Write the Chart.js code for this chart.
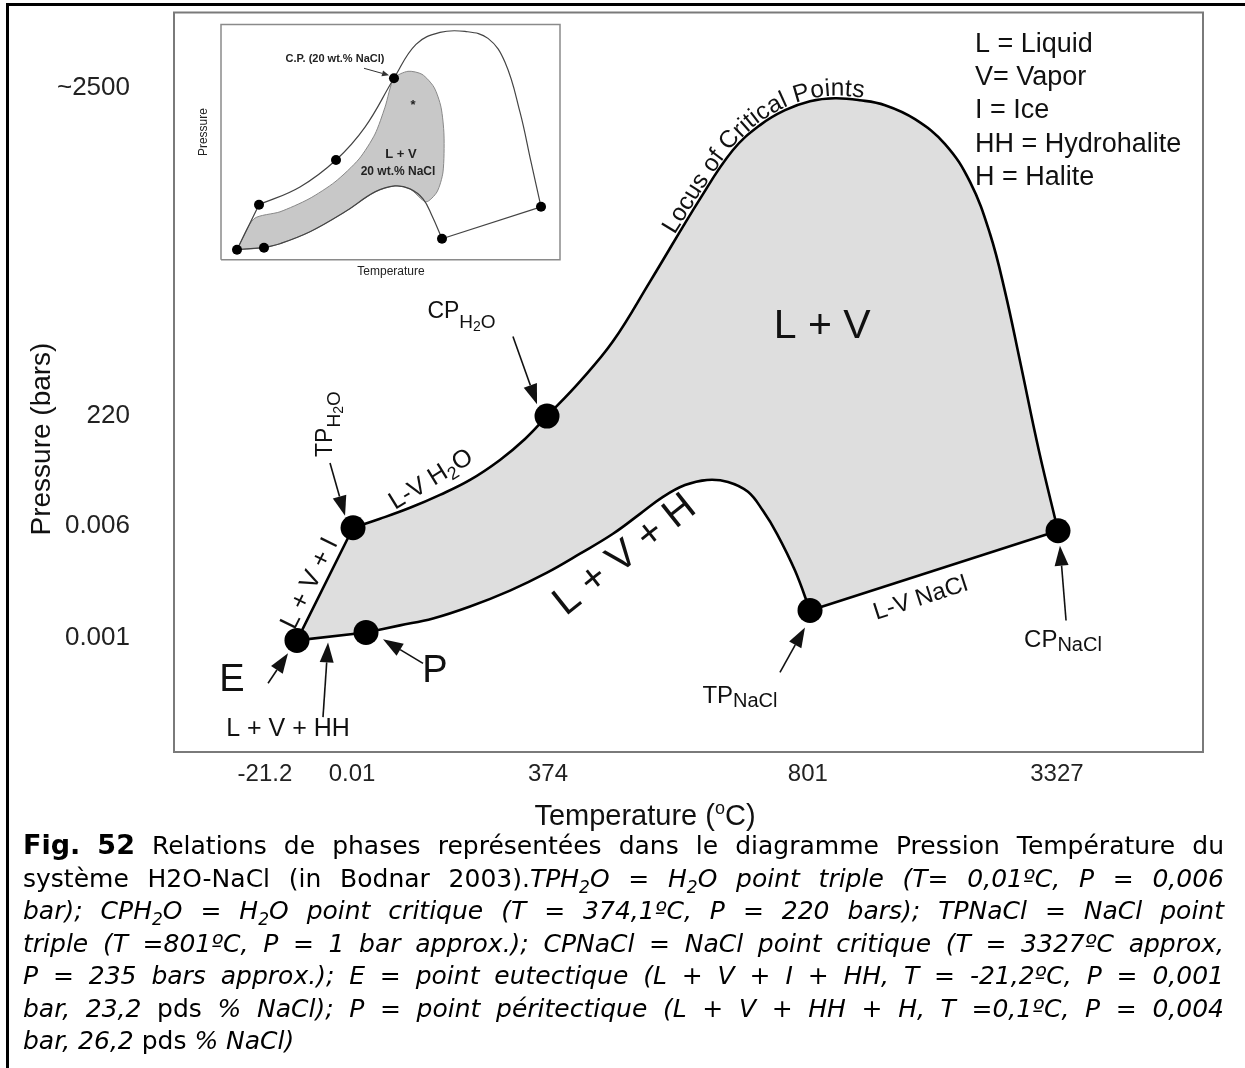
<!DOCTYPE html>
<html lang="fr">
<head>
<meta charset="utf-8">
<title>Diagramme P-T H2O-NaCl</title>
<script src="https://cdn.jsdelivr.net/npm/chart.js@4.4.1/dist/chart.umd.min.js"></script>
<style>
  html, body { margin: 0; padding: 0; background: #fff; }
  canvas { display: block; }
</style>
</head>
<body>
<canvas id="phaseDiagram" width="1245" height="1068"></canvas>
<script>
// Schematic axes (0-100 both ways), labelled with the real values of the invariant points
const xTickPos = [8.84, 17.3, 36.35, 61.6, 85.8];
const xTickLabels = ['-21.2', '0.01', '374', '801', '3327'];
const yTickPos = [15.5, 30.6, 45.4, 89.8];
const yTickLabels = ['0.001', '0.006', '220', '~2500'];

// Invariant points: E, TP H2O, P, CP H2O, TP NaCl, CP NaCl
const pointX = [11.95, 17.40, 18.66, 36.25, 61.81, 85.91];
const pointY = [15.09, 30.32, 16.17, 45.42, 19.14, 29.92];

// L-V H2O curve + locus of critical points (TP H2O -> CP H2O -> CP NaCl)
const upperX = [17.40, 20.02, 22.93, 25.85, 28.77, 31.68, 34.11, 36.25, 39.46, 42.66, 46.26, 51.12, 54.32, 56.95, 59.38, 61.81, 64.24, 66.67, 69.10, 72.01, 74.93, 77.36, 79.30, 80.76, 82.22, 84.06, 85.91];
const upperY = [30.32, 31.54, 33.02, 34.77, 36.79, 39.49, 42.32, 45.42, 50.13, 55.53, 63.61, 74.80, 81.40, 84.77, 86.79, 88.01, 88.41, 88.14, 87.47, 85.58, 82.21, 77.09, 70.08, 62.26, 52.83, 40.70, 29.92];

// L + V + H curve (P -> TP NaCl)
const lowerX = [18.66, 21.96, 25.17, 28.77, 32.65, 36.25, 39.46, 42.66, 45.29, 47.52, 49.66, 51.80, 53.84, 55.78, 57.24, 58.60, 60.35, 61.81];
const lowerY = [16.17, 17.12, 18.06, 19.68, 21.83, 24.26, 26.82, 29.51, 32.20, 34.50, 36.10, 36.79, 36.52, 35.18, 32.61, 29.51, 24.53, 19.14];

// Inset (20 wt.% NaCl), on its own 0-100 axes
const insetDotX = [4.72, 12.68, 11.21, 33.92, 51.03, 65.19, 94.40];
const insetDotY = [4.24, 5.08, 23.31, 42.37, 77.12, 8.90, 22.46];
const insetOuterX = [11.21, 23.30, 33.92, 42.48, 51.03, 57.52, 64.60, 71.98, 78.76, 83.78, 88.20, 91.45, 94.40];
const insetOuterY = [23.31, 30.93, 42.37, 56.36, 77.12, 91.53, 96.61, 97.03, 94.07, 83.90, 62.71, 41.53, 22.46];
const insetLowerX = [65.19, 62.24, 59.59, 55.75, 51.33, 45.43, 36.58, 26.25, 17.40, 12.68];
const insetLowerY = [8.90, 18.64, 25.85, 30.08, 31.36, 28.81, 20.34, 11.86, 6.78, 5.08];
const insetShadeX = [4.72, 9.73, 17.40, 25.96, 33.63, 40.71, 45.43, 48.38, 51.03, 55.16, 59.29, 62.83, 64.90, 65.78, 65.49, 63.72, 60.47, 55.75, 51.33, 45.43, 36.58, 26.25, 17.40, 12.68, 4.72];
const insetShadeY = [4.24, 17.37, 20.34, 25.85, 33.05, 42.80, 53.39, 64.83, 77.12, 80.08, 78.81, 73.31, 64.83, 52.97, 37.29, 28.81, 24.58, 30.08, 31.36, 28.81, 20.34, 11.86, 6.78, 5.08, 4.24];

const pts = (xs, ys) => xs.map((x, i) => ({ x: x, y: ys[i] }));
const P_ = i => ({ x: pointX[i], y: pointY[i] });
const I_ = i => ({ x: insetDotX[i], y: insetDotY[i] });

// closed outline of the L + V field
const fieldOutline = [P_(0)].concat(pts(upperX, upperY), pts(lowerX, lowerY).reverse(), [P_(0)]);

const SANS = "'Liberation Sans', Arial, sans-serif";
const NARROW = "'Liberation Sans Narrow', 'Arial Narrow', 'Liberation Sans', sans-serif";

// annotations, in data units of the main axes
const arrows = [
    [32.94, 56.20, 35.28, 47.04],  // CP H2O
    [15.16, 39.08, 16.62, 31.94],  // TP H2O
    [9.14, 9.30, 11.08, 13.34],    // E
    [14.48, 4.72, 14.97, 14.82],   // L + V + HH
    [24.20, 11.99, 20.31, 15.23],  // P
    [58.89, 10.78, 61.32, 16.85],  // TP NaCl
    [86.69, 17.79, 86.10, 27.90]   // CP NaCl
];
const labels = [
    { x: 5.64, y: 10.11, rot: 0, parts: [['E', 38]] },
    { x: 25.36, y: 11.32, rot: 0, parts: [['P', 38]] },
    { x: 11.08, y: 3.37, rot: 0, parts: [['L + V + HH', 25]] },
    { x: 14.58, y: 44.34, rot: -90, parts: [['TP', 23], ['H', 19, 8], ['2', 14, 11], ['O', 19, 8]] },
    { x: 27.94, y: 59.84, rot: 0, parts: [['CP', 23], ['H', 19, 10], ['2', 14, 13], ['O', 19, 10]] },
    { x: 24.88, y: 37.06, rot: -31.6, parts: [['L-V H', 25], ['2', 18, 5], ['O', 25]] },
    { x: 13.02, y: 22.91, rot: -63.6, parts: [['L + V + I', 26]] },
    { x: 43.63, y: 26.95, rot: -38.5, parts: [['L + V + H', 40]] },
    { x: 63.0, y: 57.95, rot: 0, parts: [['L + V', 41]] },
    { x: 72.5, y: 21.02, rot: -17.9, parts: [['L-V NaCl', 24]] },
    { x: 55.0, y: 7.82, rot: 0, parts: [['TP', 24], ['NaCl', 20, 4]] },
    { x: 86.39, y: 15.36, rot: 0, parts: [['CP', 24], ['NaCl', 20, 4]] },
    { x: -13.02, y: 42.32, rot: -90, parts: [['Pressure (bars)', 28]] }
];
const legendLines = ['L = Liquid', 'V= Vapor', 'I = Ice', 'HH = Hydrohalite', 'H = Halite'];
const legendY = [95.69, 91.24, 86.79, 82.21, 77.63];

const insetLabels = [
    { x: 33.63, y: 85.17, rot: 0, font: 'bold 11px', text: 'C.P. (20 wt.% NaCl)' },
    { x: 53.10, y: 44.92, rot: 0, font: 'bold 13px', text: 'L + V' },
    { x: 52.21, y: 37.29, rot: 0, font: 'bold 12px', text: '20 wt.% NaCl' },
    { x: 56.64, y: 65.68, rot: 0, font: 'bold 13px', text: '*' },
    { x: -5.01, y: 54.24, rot: -90, font: '12px', text: 'Pressure' },
    { x: 50.15, y: -5.08, rot: 0, font: '12px', text: 'Temperature' }
];

const captionLines = [
    '{b}Fig. 52{n} Relations de phases représentées dans le diagramme Pression Température du',
    '{n}système H2O-NaCl (in Bodnar 2003).{i}TPH{s}2{i}O = H{s}2{i}O point triple (T= 0,01ºC, P = 0,006',
    '{i}bar); CPH{s}2{i}O = H{s}2{i}O point critique (T = 374,1ºC, P = 220 bars); TPNaCl = NaCl point',
    '{i}triple (T =801ºC, P = 1 bar approx.); CPNaCl = NaCl point critique (T = 3327ºC approx,',
    '{i}P = 235 bars approx.); E = point eutectique (L + V + I + HH, T = -21,2ºC, P = 0,001',
    '{i}bar, 23,2 {n}pds {i}% NaCl); P = point péritectique (L + V + HH + H, T =0,1ºC, P = 0,004',
    '{i}bar, 26,2 {n}pds {i}% NaCl)'
];
const capFonts = {
    n: "25px 'DejaVu Sans', Verdana, sans-serif",
    i: "italic 25px 'DejaVu Sans', Verdana, sans-serif",
    b: "bold 27px 'DejaVu Sans', Verdana, sans-serif",
    s: "italic 17px 'DejaVu Sans', Verdana, sans-serif"
};

function drawParts(ctx, x, y, rot, parts, family) {
    ctx.save();
    ctx.translate(x, y);
    ctx.rotate(rot * Math.PI / 180);
    let w = 0;
    parts.forEach(p => { ctx.font = p[1] + 'px ' + family; w += ctx.measureText(p[0]).width; });
    let cx = -w / 2;
    const base = parts[0][1] * 0.36;
    ctx.textAlign = 'left';
    ctx.textBaseline = 'alphabetic';
    parts.forEach(p => {
        ctx.font = p[1] + 'px ' + family;
        ctx.fillText(p[0], cx, base + (p[2] || 0));
        cx += ctx.measureText(p[0]).width;
    });
    ctx.restore();
}

function drawArrow(ctx, x0, y0, x1, y1, head, half) {
    const a = Math.atan2(y1 - y0, x1 - x0);
    const bx = x1 - head * Math.cos(a), by = y1 - head * Math.sin(a);
    ctx.beginPath();
    ctx.moveTo(x0, y0);
    ctx.lineTo(bx, by);
    ctx.stroke();
    ctx.beginPath();
    ctx.moveTo(x1, y1);
    ctx.lineTo(bx + half * Math.sin(a), by - half * Math.cos(a));
    ctx.lineTo(bx - half * Math.sin(a), by + half * Math.cos(a));
    ctx.closePath();
    ctx.fill();
}

// text following a polyline (pixel points), baseline just above the curve
function textOnCurve(ctx, text, line, startX, offset, font) {
    const cum = [0];
    for (let i = 1; i < line.length; i++) {
        cum.push(cum[i - 1] + Math.hypot(line[i].x - line[i - 1].x, line[i].y - line[i - 1].y));
    }
    const at = s => {
        let i = 1;
        while (i < line.length - 1 && cum[i] < s) i++;
        const t = (s - cum[i - 1]) / (cum[i] - cum[i - 1]);
        const p0 = line[i - 1], p1 = line[i];
        // smooth the direction a little around polyline joints
        const q0 = line[Math.max(0, i - 2)], q1 = line[Math.min(line.length - 1, i + 1)];
        const a0 = Math.atan2(p1.y - q0.y, p1.x - q0.x), a1 = Math.atan2(q1.y - p0.y, q1.x - p0.x);
        return { x: p0.x + t * (p1.x - p0.x), y: p0.y + t * (p1.y - p0.y), a: a0 + t * (a1 - a0) };
    };
    let s = 0;
    for (let i = 1; i < line.length; i++) {
        if (line[i].x >= startX) {
            s = cum[i - 1] + (startX - line[i - 1].x) / (line[i].x - line[i - 1].x) * (cum[i] - cum[i - 1]);
            break;
        }
    }
    ctx.save();
    ctx.font = font;
    ctx.textAlign = 'center';
    ctx.textBaseline = 'alphabetic';
    for (const ch of text) {
        const w = ctx.measureText(ch).width;
        const p = at(s + w / 2);
        ctx.save();
        ctx.translate(p.x, p.y);
        ctx.rotate(p.a);
        ctx.fillText(ch, 0, -offset);
        ctx.restore();
        s += w;
    }
    ctx.restore();
}

function parseLine(line) {
    const words = [];
    let word = [];
    let style = 'n';
    line.split(/\{(\w)\}/).forEach((chunk, k) => {
        if (k % 2) { style = chunk; return; }
        for (const ch of chunk) {
            if (ch === ' ') {
                if (word.length) { words.push(word); word = []; }
                continue;
            }
            const last = word[word.length - 1];
            if (last && last.s === style) last.t += ch;
            else word.push({ t: ch, s: style });
        }
    });
    if (word.length) words.push(word);
    return words;
}

function drawCaption(ctx, x0, x1, y0, lh) {
    ctx.save();
    ctx.fillStyle = '#000';
    ctx.textAlign = 'left';
    ctx.textBaseline = 'alphabetic';
    captionLines.forEach((line, k) => {
        const words = parseLine(line);
        const widths = words.map(w => w.reduce((sum, r) => { ctx.font = capFonts[r.s]; return sum + ctx.measureText(r.t).width; }, 0));
        const total = widths.reduce((a, b) => a + b, 0);
        ctx.font = capFonts.n;
        let gap = ctx.measureText(' ').width;
        if (k < captionLines.length - 1) gap = (x1 - x0 - total) / (words.length - 1);
        let x = x0;
        const y = y0 + k * lh;
        words.forEach(w => {
            w.forEach(r => {
                ctx.font = capFonts[r.s];
                ctx.fillText(r.t, x, y + (r.s === 's' ? 6 : 0));
                x += ctx.measureText(r.t).width;
            });
            x += gap;
        });
    });
    ctx.restore();
}

const sketch = {
    id: 'sketch',
    beforeDatasetsDraw(chart) {
        const { ctx, chartArea: a } = chart;
        ctx.save();
        ctx.strokeStyle = '#7a7a7a';
        ctx.lineWidth = 2;
        ctx.strokeRect(a.left, a.top, a.right - a.left, a.bottom - a.top);
        ctx.restore();
    },
    afterDatasetsDraw(chart) {
        const { ctx } = chart;
        const sx = chart.scales.x, sy = chart.scales.y;
        const ix = chart.scales.xi, iy = chart.scales.yi;
        const X = v => sx.getPixelForValue(v), Y = v => sy.getPixelForValue(v);

        ctx.save();
        ctx.fillStyle = '#111';
        ctx.strokeStyle = '#111';
        ctx.lineWidth = 1.6;
        arrows.forEach(a => drawArrow(ctx, X(a[0]), Y(a[1]), X(a[2]), Y(a[3]), 20, 7));

        labels.forEach(l => drawParts(ctx, X(l.x), Y(l.y), l.rot, l.parts, SANS));

        // locus of critical points, written along the curve
        const upperPx = upperX.map((v, i) => ({ x: X(v), y: Y(upperY[i]) }));
        textOnCurve(ctx, 'Locus of Critical Points', upperPx, X(48.9), 3, '24.5px ' + SANS);

        // legend
        ctx.font = '27px ' + SANS;
        ctx.textAlign = 'left';
        ctx.textBaseline = 'middle';
        legendLines.forEach((t, i) => ctx.fillText(t, X(77.84), Y(legendY[i])));

        // x axis title with raised o
        drawParts(ctx, X(45.77), Y(-8.49), 0, [['Temperature (', 29], ['o', 18, -11], ['C)', 29]], NARROW);

        // inset texts and arrow
        ctx.fillStyle = '#222';
        ctx.textAlign = 'center';
        ctx.textBaseline = 'middle';
        insetLabels.forEach(l => {
            ctx.save();
            ctx.translate(ix.getPixelForValue(l.x), iy.getPixelForValue(l.y));
            ctx.rotate(l.rot * Math.PI / 180);
            ctx.font = l.font + ' ' + SANS;
            ctx.fillText(l.text, 0, 0);
            ctx.restore();
        });
        ctx.strokeStyle = '#333';
        ctx.fillStyle = '#333';
        ctx.lineWidth = 1;
        drawArrow(ctx, ix.getPixelForValue(42.18), iy.getPixelForValue(81.36), ix.getPixelForValue(49.56), iy.getPixelForValue(78.39), 7, 3);
        ctx.restore();

        // caption
        drawCaption(ctx, 23, 1224, 854, 32.5);

        // page border (left and top)
        ctx.save();
        ctx.fillStyle = '#000';
        ctx.fillRect(6, 3, chart.width - 6, 3);
        ctx.fillRect(6, 3, 3, chart.height - 3);
        ctx.restore();
    }
};

const lineStyle = { showLine: true, borderColor: '#000', borderWidth: 2.6, pointRadius: 0, fill: false };
const insetLine = { showLine: true, borderColor: '#444', borderWidth: 1.2, pointRadius: 0, fill: false, xAxisID: 'xi', yAxisID: 'yi' };

new Chart(document.getElementById('phaseDiagram'), {
    type: 'scatter',
    data: {
        datasets: [
            { data: pts(pointX, pointY), pointRadius: 12.5, pointBackgroundColor: '#000', pointBorderWidth: 0, order: 0 },
            Object.assign({ data: pts(upperX, upperY), tension: 0.4, order: 1 }, lineStyle),
            Object.assign({ data: pts(lowerX, lowerY), tension: 0.4, order: 1 }, lineStyle),
            Object.assign({ data: [P_(1), P_(0), P_(2)], tension: 0, order: 1 }, lineStyle),
            Object.assign({ data: [P_(4), P_(5)], tension: 0, order: 1 }, lineStyle),
            { data: fieldOutline, showLine: true, fill: 'shape', backgroundColor: '#dedede', borderColor: 'rgba(0,0,0,0)', pointRadius: 0, tension: 0, order: 20 },

            // inset
            { data: pts(insetDotX, insetDotY), pointRadius: 5, pointBackgroundColor: '#000', pointBorderWidth: 0, xAxisID: 'xi', yAxisID: 'yi', order: 0 },
            Object.assign({}, insetLine, { data: pts(insetOuterX, insetOuterY), tension: 0.4, order: 2 }),
            Object.assign({}, insetLine, { data: pts(insetLowerX, insetLowerY), tension: 0.4, order: 2 }),
            Object.assign({}, insetLine, { data: [I_(6), I_(5)], tension: 0, order: 2 }),
            Object.assign({}, insetLine, { data: [I_(1), I_(0), I_(2)], tension: 0, order: 2 }),
            { data: pts(insetShadeX, insetShadeY), showLine: true, fill: 'shape', backgroundColor: '#c8c8c8', borderColor: '#888', borderWidth: 1, pointRadius: 0, tension: 0.25, xAxisID: 'xi', yAxisID: 'yi', order: 15 },
            { data: [{ x: 0, y: 0 }, { x: 100, y: 0 }, { x: 100, y: 100 }, { x: 0, y: 100 }, { x: 0, y: 0 }], showLine: true, borderColor: '#8a8a8a', borderWidth: 1.5, pointRadius: 0, tension: 0, xAxisID: 'xi', yAxisID: 'yi', order: 16 }
        ]
    },
    options: {
        responsive: false,
        animation: false,
        devicePixelRatio: 1,
        events: [],
        layout: { padding: { top: 10, right: 42, left: 0, bottom: 0 } },
        plugins: { legend: { display: false }, tooltip: { enabled: false } },
        scales: {
            x: {
                type: 'linear', min: 0, max: 100,
                afterBuildTicks: s => { s.ticks = xTickPos.map(v => ({ value: v })); },
                afterFit: s => { s.height = 316; s.paddingLeft = 0; s.paddingRight = 0; },
                grid: { display: false, drawTicks: false },
                border: { display: false },
                ticks: {
                    autoSkip: false, maxRotation: 0, padding: 8, color: '#222',
                    font: { family: NARROW, size: 24 },
                    callback: (v, i) => xTickLabels[i]
                }
            },
            y: {
                type: 'linear', min: 0, max: 100,
                afterBuildTicks: s => { s.ticks = yTickPos.map(v => ({ value: v })); },
                afterFit: s => { s.width = 174; s.paddingTop = 0; s.paddingBottom = 0; },
                grid: { display: false, drawTicks: false },
                border: { display: false },
                ticks: {
                    padding: 44, color: '#222',
                    font: { family: SANS, size: 26 },
                    callback: (v, i) => yTickLabels[i]
                }
            },
            xi: { type: 'linear', display: false, min: -13.864, max: 289.67 },
            yi: { type: 'linear', display: false, position: 'left', min: -209.32, max: 105.08 }
        }
    },
    plugins: [sketch]
});
</script>
</body>
</html>
